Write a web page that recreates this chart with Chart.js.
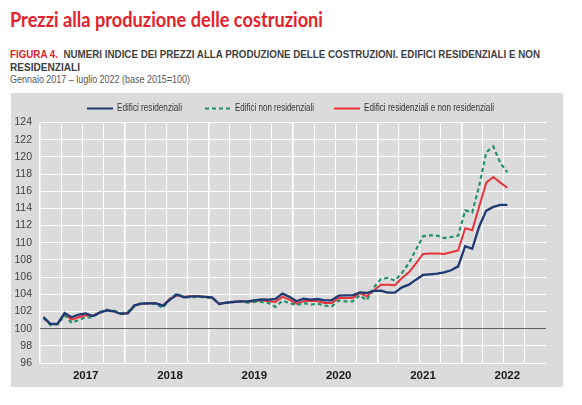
<!DOCTYPE html>
<html><head><meta charset="utf-8">
<script src="https://cdn.jsdelivr.net/npm/chart.js@4.4.0/dist/chart.umd.min.js"></script>
<style>
html,body{margin:0;padding:0;background:#fff;width:582px;height:405px;overflow:hidden;}
.t{position:absolute;white-space:nowrap;transform-origin:0 0;line-height:1;}
.narrow{font-family:"Liberation Sans Narrow","Arial Narrow","Liberation Sans",sans-serif;}
#title{left:10px;top:7px;font:bold 20px Lato,"Open Sans",sans-serif;color:#e3222b;}
#sub1{left:10px;top:49px;font-size:11px;font-weight:bold;color:#3f3f3f;}
#sub1 b{color:#e3222b;}
#sub2{left:10px;top:62px;font-size:11px;font-weight:bold;color:#3f3f3f;}
#sub3{left:10px;top:75px;font-size:10px;color:#555;}
#panel{position:absolute;left:11px;top:93px;width:552px;height:294px;background:#dbdbdb;}
#chart{position:absolute;left:0;top:0;}
.lg{position:absolute;top:10px;font-size:10px;color:#333;}
.ls{position:absolute;top:14px;}
</style></head>
<body>
<div id="title" class="t" data-w="313">Prezzi alla produzione delle costruzioni</div>
<div id="sub1" class="t narrow" data-w="530"><b>FIGURA 4.</b>&nbsp; NUMERI INDICE DEI PREZZI ALLA PRODUZIONE DELLE COSTRUZIONI. EDIFICI RESIDENZIALI E NON</div>
<div id="sub2" class="t narrow" data-w="70">RESIDENZIALI</div>
<div id="sub3" class="t narrow" data-w="180">Gennaio 2017 – luglio 2022 (base 2015=100)</div>
<div id="panel">
  <canvas id="chart" width="552" height="294"></canvas>
  <svg class="ls" style="left:76px" width="26" height="3"><line x1="0" y1="1.5" x2="26" y2="1.5" stroke="#1f3a73" stroke-width="2"/></svg>
  <div class="lg t narrow" style="left:106px" data-w="65">Edifici residenziali</div>
  <svg class="ls" style="left:194px" width="26" height="3"><line x1="0" y1="1.5" x2="26" y2="1.5" stroke="#22906a" stroke-width="2" stroke-dasharray="4,3"/></svg>
  <div class="lg t narrow" style="left:224px" data-w="79">Edifici non residenziali</div>
  <svg class="ls" style="left:323px" width="26" height="3"><line x1="0" y1="1.5" x2="26" y2="1.5" stroke="#e8323c" stroke-width="2"/></svg>
  <div class="lg t narrow" style="left:353px" data-w="130">Edifici residenziali e non residenziali</div>
</div>
<script>
const yearLabels = ['2017','2018','2019','2020','2021','2022'];
const monthNames = ['gen','feb','mar','apr','mag','giu','lug','ago','set','ott','nov','dic'];
const residenziali = [101.36,100.54,100.58,101.82,101.32,101.63,101.78,101.47,101.86,102.13,102.02,101.71,
  101.78,102.72,102.91,102.95,102.95,102.68,103.38,103.96,103.65,103.76,103.76,103.70,
  103.65,102.87,103.03,103.10,103.18,103.18,103.30,103.41,103.38,103.45,104.07,103.70,
  103.18,103.49,103.38,103.45,103.30,103.30,103.84,103.88,103.88,104.23,104.15,104.40,
  104.42,104.19,104.19,104.81,105.12,105.70,106.25,106.33,106.40,106.56,106.80,107.25,
  109.60,109.30,111.90,113.74,114.17,114.40,114.40];
const nonResidenziali = [101.25,100.40,100.50,101.55,100.66,101.00,101.32,101.32,101.94,102.20,102.09,101.82,
  101.94,102.80,102.95,102.95,102.87,102.40,103.50,104.07,103.65,103.65,103.70,103.65,
  103.57,102.87,102.99,103.10,103.18,103.03,103.10,103.10,102.99,102.53,103.26,102.99,
  102.72,102.99,102.80,102.91,102.68,102.60,103.26,103.18,103.18,103.88,103.30,104.80,
  105.78,105.90,105.60,106.48,107.65,109.20,110.75,110.87,110.83,110.55,110.67,110.83,
  113.77,113.54,116.65,120.53,121.20,119.29,118.20];
const totale = [101.25,100.50,100.54,101.70,101.05,101.32,101.55,101.50,101.86,102.17,102.02,101.70,
  101.86,102.72,102.91,102.95,102.95,102.70,103.50,103.88,103.72,103.76,103.76,103.70,
  103.57,102.87,103.03,103.10,103.18,103.10,103.18,103.30,103.18,103.10,103.70,103.38,
  102.90,103.18,103.26,103.18,102.99,102.99,103.57,103.57,103.57,104.15,103.76,104.45,
  105.10,105.10,105.05,105.90,106.56,107.60,108.70,108.75,108.75,108.70,108.90,109.10,
  111.70,111.45,114.24,117.00,117.66,117.00,116.40];
const seriesNames = ['Edifici residenziali','Edifici non residenziali','Edifici residenziali e non residenziali'];
const yMin = 96, yMax = 124, yStep = 2;

const monthLabels = [];
yearLabels.forEach(y => monthNames.forEach(m => monthLabels.push(m + ' ' + y)));

function fit(){
  document.querySelectorAll('[data-w]').forEach(el=>{
    el.style.transform='none';
    const w = el.getBoundingClientRect().width;
    const target = parseFloat(el.dataset.w);
    if (w>0) el.style.transform = 'scaleX(' + (target/w) + ')';
  });
}
fit();

const narrowFam = '"Liberation Sans Narrow","Arial Narrow","Liberation Sans",sans-serif';
new Chart(document.getElementById('chart'), {
  type: 'line',
  data: {
    labels: monthLabels,
    datasets: [
      {label: seriesNames[0], data: residenziali, borderColor:'#1f3a73', borderWidth:2.3},
      {label: seriesNames[1], data: nonResidenziali, borderColor:'#22906a', borderWidth:2.2, borderDash:[4,3]},
      {label: seriesNames[2], data: totale, borderColor:'#e8323c', borderWidth:2}
    ]
  },
  options: {
    responsive:false, animation:false, devicePixelRatio:1,
    layout:{padding:{left:0,right:17,top:29.5,bottom:0}},
    plugins:{legend:{display:false}, tooltip:{enabled:false}},
    elements:{point:{radius:0}, line:{tension:0, fill:false}},
    scales:{
      x:{
        type:'category', offset:true,
        grid:{offset:true, drawTicks:false,
          color:c => (c.index % 3 === 0) ? '#ffffff' : 'rgba(0,0,0,0)',
          lineWidth:c => (c.index % 12 === 0) ? 1.6 : 1},
        border:{display:false},
        ticks:{autoSkip:false, maxRotation:0, minRotation:0, padding:6, color:'#1a1a1a',
          font:{family:narrowFam, size:11.5, weight:'bold'},
          callback:(v,i) => (i % 12 === 6) ? yearLabels[Math.floor(i/12)] : ''},
        afterFit:s => { s.height = 24; }
      },
      y:{
        min:yMin, max:yMax,
        ticks:{stepSize:yStep, padding:8, color:'#404040', font:{family:narrowFam, size:10.5}},
        grid:{drawTicks:false, color:c => (c.tick && c.tick.value === 100) ? '#5e5e5e' : '#ffffff', lineWidth:1},
        border:{display:false},
        afterFit:s => { s.width = 29; }
      }
    }
  }
});
</script>
</body></html>
